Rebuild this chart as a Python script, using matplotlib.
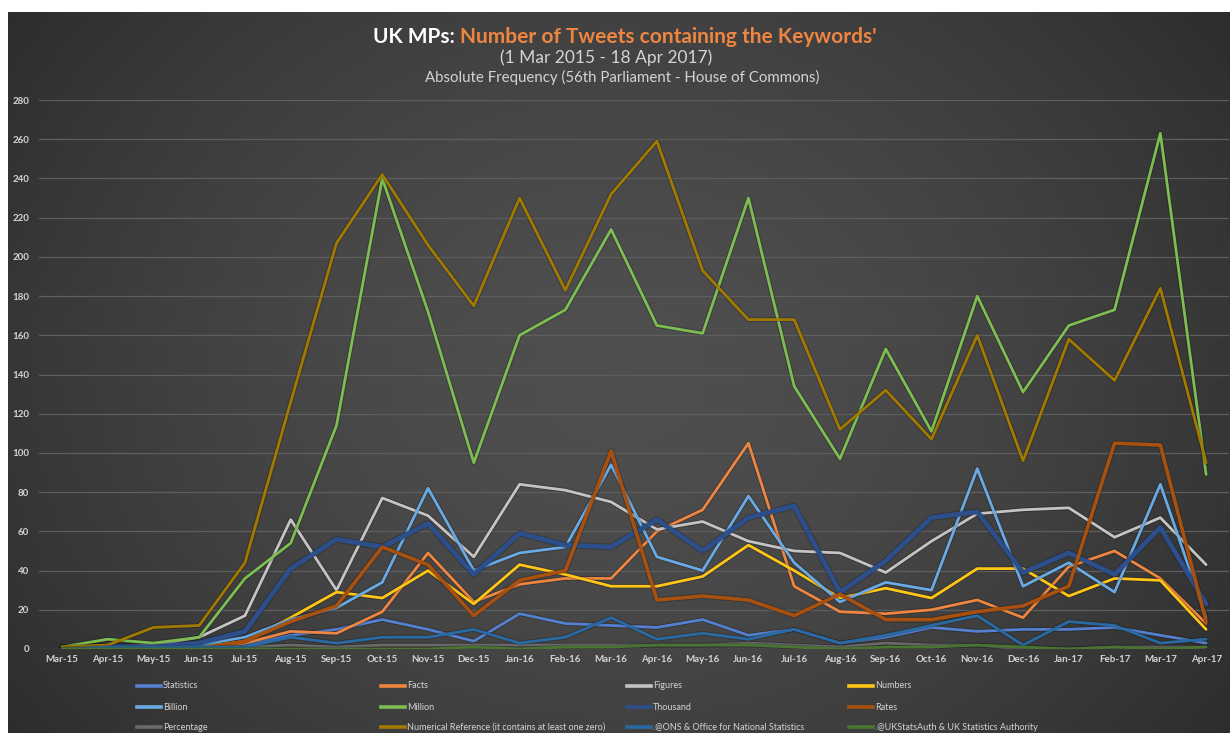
import numpy as np
import matplotlib
matplotlib.use("Agg")
import matplotlib.pyplot as plt
from matplotlib.lines import Line2D
import matplotlib.patheffects as pe

months = ["Mar-15", "Apr-15", "May-15", "Jun-15", "Jul-15", "Aug-15", "Sep-15",
          "Oct-15", "Nov-15", "Dec-15", "Jan-16", "Feb-16", "Mar-16", "Apr-16",
          "May-16", "Jun-16", "Jul-16", "Aug-16", "Sep-16", "Oct-16", "Nov-16",
          "Dec-16", "Jan-17", "Feb-17", "Mar-17", "Apr-17"]

statistics = [1, 2, 1, 1, 2, 7, 10, 15, 10, 4, 18, 13, 12, 11, 15, 7, 10, 3, 6, 11, 9, 10, 10, 11, 7, 3]
facts = [0, 0, 0, 0, 3, 9, 8, 19, 49, 24, 33, 36, 36, 60, 71, 105, 32, 19, 18, 20, 25, 16, 42, 50, 36, 13]
figures = [1, 1, 2, 6, 17, 66, 30, 77, 68, 47, 84, 81, 75, 61, 65, 55, 50, 49, 39, 55, 69, 71, 72, 57, 67, 43]
numbers = [0, 1, 1, 1, 4, 16, 29, 26, 40, 23, 43, 38, 32, 32, 37, 53, 40, 26, 31, 26, 41, 41, 27, 36, 35, 10]
billion = [1, 1, 1, 2, 6, 15, 21, 34, 82, 40, 49, 52, 94, 47, 40, 78, 44, 24, 34, 30, 92, 32, 44, 29, 84, 16]
million = [1, 5, 3, 6, 36, 54, 114, 240, 172, 95, 160, 173, 214, 165, 161, 230, 134, 97, 153, 111, 180, 131, 165, 173, 263, 89]
thousand = [0, 1, 1, 3, 9, 41, 56, 52, 64, 38, 59, 53, 52, 66, 50, 67, 73, 29, 45, 67, 70, 39, 49, 38, 62, 23]
rates = [0, 0, 0, 0, 4, 14, 22, 52, 43, 17, 35, 40, 101, 25, 27, 25, 17, 28, 15, 15, 19, 22, 32, 105, 104, 14]
percentage = [0, 0, 0, 0, 1, 2, 1, 2, 2, 2, 2, 2, 2, 2, 2, 3, 2, 1, 3, 2, 2, 0, 0, 1, 1, 1]
numerical_reference = [1, 2, 11, 12, 44, 126, 207, 242, 206, 175, 230, 183, 232, 259, 193, 168, 168, 112, 132, 107, 160, 96, 158, 137, 184, 95]
ons = [0, 1, 1, 1, 1, 6, 3, 6, 6, 10, 3, 6, 16, 5, 8, 5, 10, 3, 7, 12, 17, 2, 14, 12, 3, 5]
ukstatsauth = [0, 0, 0, 0, 0, 0, 0, 0, 0, 1, 0, 1, 1, 2, 2, 2, 1, 0, 1, 1, 2, 1, 0, 1, 0, 1]

series = [
    ("Statistics", statistics, "#5580D0", 2.0),
    ("Facts", facts, "#EE8540", 2.0),
    ("Figures", figures, "#C4C4C4", 2.0),
    ("Numbers", numbers, "#FFC618", 2.0),
    ("Billion", billion, "#6AAAE4", 2.0),
    ("Million", million, "#7DBE52", 2.0),
    ("Thousand", thousand, "#2C4F8C", 3.4),
    ("Rates", rates, "#A8500F", 2.6),
    ("Percentage", percentage, "#6A6A6A", 2.0),
    ("Numerical Reference (it contains at least one zero)", numerical_reference, "#A27A00", 2.0),
    (".@ONS & Office for National Statistics", ons, "#2A6AA3", 2.0),
    (".@UKStatsAuth & UK Statistics Authority", ukstatsauth, "#4A7530", 2.0),
]

W, H = 1230, 733
FONT = ["Lato", "DejaVu Sans"]
TXT = "#D4D4D4"

fig = plt.figure(figsize=(W / 100, H / 100), dpi=100)
fig.patch.set_facecolor("white")

# dark panel with a soft radial gradient
bg = fig.add_axes([8 / W, 0, (W - 8) / W, (H - 12) / H], zorder=0)
yy, xx = np.mgrid[0:1:300j, 0:1:600j]
r = np.sqrt(((xx - 0.5) / 0.6) ** 2 + ((yy - 0.5) / 0.85) ** 2)
val = 0.31 - 0.13 * np.clip(r, 0, 1) ** 1.6
bg.imshow(np.dstack([val, val, val]), extent=[0, 1, 0, 1], aspect="auto", origin="lower")
bg.set_axis_off()

ax = fig.add_axes([39 / W, (H - 649) / H, 1190 / W, 549 / H], zorder=2)
ax.patch.set_alpha(0)
x = np.arange(len(months))
for name, vals, col, lw in series:
    ax.plot(x, vals, color=col, lw=lw, solid_joinstyle="round", solid_capstyle="round", zorder=3,
            path_effects=[pe.Stroke(linewidth=lw + 1.4, foreground=(0, 0, 0, 0.22), joinstyle="round"),
                          pe.Normal()])

ax.set_xlim(-0.5, len(months) - 0.5)
ax.set_ylim(0, 280)
ax.set_yticks(range(0, 281, 20))
ax.set_xticks(x)
ax.set_xticklabels(months)
ax.grid(axis="y", color="#5E5E5E", lw=0.9, zorder=1)
ax.set_axisbelow(True)
for s in ax.spines.values():
    s.set_visible(False)
ax.tick_params(axis="both", length=0, colors=TXT, labelsize=7)
ax.tick_params(axis="y", pad=7)
ax.tick_params(axis="x", pad=4)
for lab in ax.get_xticklabels() + ax.get_yticklabels():
    lab.set_fontweight("bold")
    lab.set_family(FONT)

# title in two colours
fig.canvas.draw()
ren = fig.canvas.get_renderer()
ty = 1 - 37 / H
t1 = fig.text(0, ty, "UK MPs: ", color="white", fontsize=15, fontweight="bold", family=FONT, va="center")
t2 = fig.text(0, ty, "Number of Tweets containing the Keywords'", color="#EE8540", fontsize=15,
              fontweight="bold", family=FONT, va="center")
w1 = t1.get_window_extent(ren).width
w2 = t2.get_window_extent(ren).width
start = (625 - (w1 + w2) / 2) / W
t1.set_x(start)
t2.set_x(start + w1 / W)

fig.text(606 / W, 1 - 58 / H, "(1 Mar 2015 - 18 Apr 2017)", color=TXT, fontsize=12.5,
         family=FONT, ha="center", va="center")
fig.text(622 / W, 1 - 77 / H, "Absolute Frequency (56th Parliament - House of Commons)", color=TXT,
         fontsize=10.8, family=FONT, ha="center", va="center")

# legend: 3 rows x 4 columns
col_x = [137, 381, 627, 849]
row_y = [686, 707, 727]
for i, (name, vals, col, lw) in enumerate(series):
    r_, c_ = divmod(i, 4)
    x0, y0 = col_x[c_], row_y[r_]
    fig.add_artist(Line2D([x0 / W, (x0 + 24) / W], [1 - y0 / H, 1 - y0 / H], color=col, lw=2.6,
                          transform=fig.transFigure))
    fig.text((x0 + 26) / W, 1 - y0 / H, name, color=TXT, fontsize=6.5, family=FONT, va="center")

fig.savefig("out.png", dpi=100)
